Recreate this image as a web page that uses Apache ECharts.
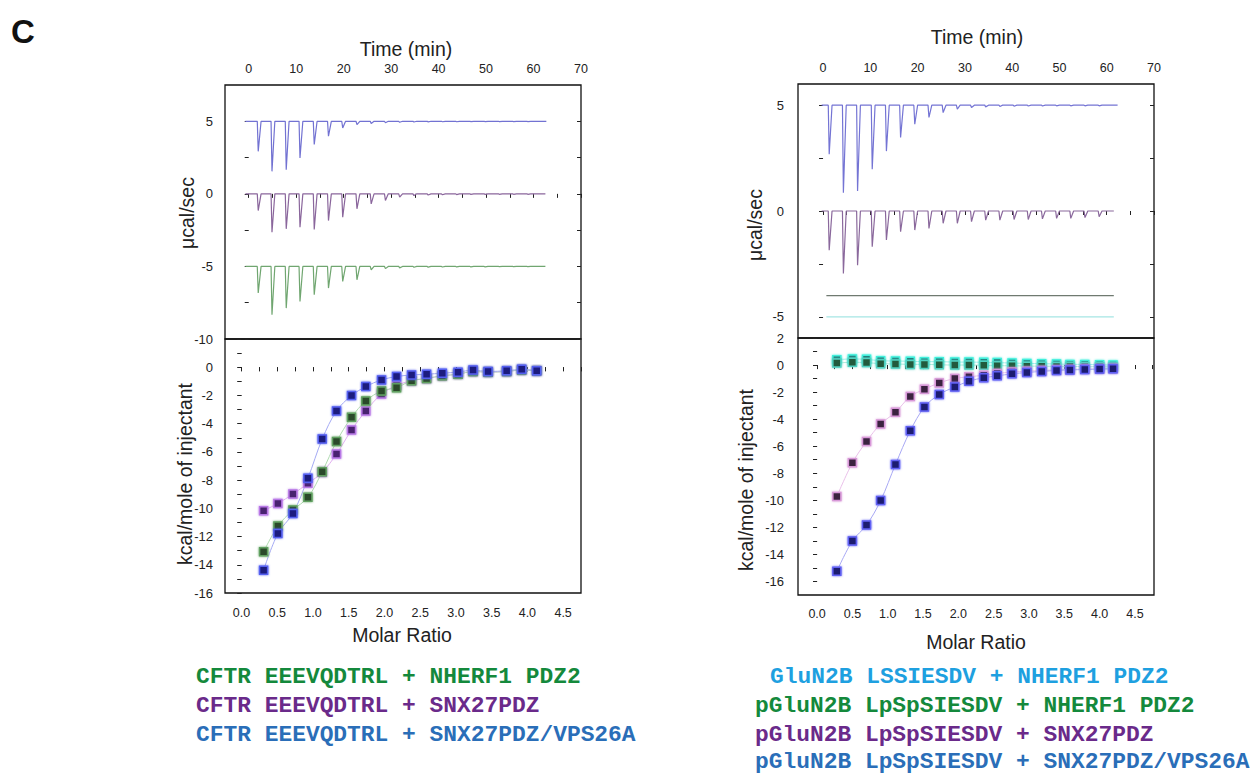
<!DOCTYPE html>
<html><head><meta charset="utf-8">
<script src="https://cdn.jsdelivr.net/npm/echarts@6/dist/echarts.min.js"></script>
<style>html,body{margin:0;padding:0;background:#fff;}#chart{width:1257px;height:776px;}</style>
</head><body><div id="chart"></div>
<script>
// ---------- tick labels ----------
const timeTicks = [0, 10, 20, 30, 40, 50, 60, 70];
const timeMinorTicks = [0, 5, 10, 15, 20, 25, 30, 35, 40, 45, 50, 55, 60, 65, 70];
const ratioTicks = [0, 0.5, 1, 1.5, 2, 2.5, 3, 3.5, 4, 4.5];
const ratioMinorTicks = [0, 0.25, 0.5, 0.75, 1, 1.25, 1.5, 1.75, 2, 2.25, 2.5, 2.75, 3, 3.25, 3.5, 3.75, 4, 4.25, 4.5, 4.75];
const powerTicksL = [5, 0, -5, -10];
const powerMinorL = [5, 2.5, 0, -2.5, -5, -7.5, -10];
const powerTicksR = [5, 0, -5];
const powerMinorR = [5, 2.5, 0, -2.5, -5];
const heatTicksL = [0, -2, -4, -6, -8, -10, -12, -14, -16];
const heatTicksR = [2, 0, -2, -4, -6, -8, -10, -12, -14, -16];
const heatMinor = [2, 1, 0, -1, -2, -3, -4, -5, -6, -7, -8, -9, -10, -11, -12, -13, -14, -15, -16];

// ---------- raw thermograms (injection time, peak µcal/sec) ----------
const injTimeL = [1.8, 4.7, 7.7, 10.6, 13.6, 16.6, 19.6, 22.6, 25.6, 28.6, 31.6, 34.6, 37.6, 40.6, 43.6, 46.6, 49.6, 52.6, 55.6, 58.6];
const peakL_VPS = [2.93, 1.55, 1.67, 2.47, 3.40, 3.97, 4.54, 4.77, 4.85, 4.90, 4.93, 4.95, 4.96, 4.97, 4.97, 4.98, 4.98, 4.98, 4.98, 4.98];
const peakL_SNX = [-1.15, -2.65, -2.41, -2.30, -2.45, -1.84, -1.61, -1.03, -0.69, -0.46, -0.23, -0.12, -0.08, -0.06, -0.05, -0.04, -0.04, -0.03, -0.03, -0.03];
const peakL_NHERF = [-6.83, -8.33, -7.87, -7.41, -6.95, -6.49, -6.03, -5.92, -5.23, -5.15, -5.10, -5.06, -5.05, -5.04, -5.03, -5.03, -5.03, -5.02, -5.02, -5.02];
const baseL = [5, 0, -5];

const injTimeR = [1.1, 4.1, 7.1, 10.2, 13.2, 16.2, 19.2, 22.2, 25.2, 28.2, 31.2, 34.2, 37.2, 40.2, 43.2, 46.2, 49.2, 52.2, 55.2, 58.2];
const peakR_VPS = [2.68, 0.86, 0.94, 1.97, 2.83, 3.47, 4.10, 4.42, 4.65, 4.81, 4.89, 4.92, 4.94, 4.95, 4.96, 4.96, 4.97, 4.97, 4.97, 4.97];
const peakR_SNX = [-1.85, -2.95, -2.56, -1.69, -1.37, -0.98, -0.90, -0.82, -0.58, -0.58, -0.50, -0.43, -0.43, -0.40, -0.40, -0.37, -0.35, -0.35, -0.31, -0.27];
const baseR = [5, 0, -4, -5];

// ---------- integrated heats (kcal/mole of injectant) ----------
const ratioL = [0.31, 0.51, 0.72, 0.93, 1.13, 1.33, 1.54, 1.74, 1.96, 2.17, 2.38, 2.59, 2.81, 3.03, 3.24, 3.45, 3.71, 3.92, 4.13];
const heatL_NHERF = [-13.08, -11.26, -10.12, -9.22, -7.40, -5.27, -3.55, -2.39, -1.68, -1.45, -0.95, -0.80, -0.60, -0.50, -0.30, -0.35, -0.30, -0.20, -0.25];
const heatL_SNX = [-10.17, -9.65, -8.99, -8.23, -7.45, -6.15, -4.45, -3.10, -1.90, -1.30, -0.95, -0.80, -0.60, -0.50, -0.30, -0.35, -0.30, -0.20, -0.25];
const heatL_VPS = [-14.38, -11.78, -10.36, -7.87, -5.09, -3.10, -2.01, -1.37, -0.90, -0.66, -0.55, -0.50, -0.42, -0.35, -0.20, -0.30, -0.25, -0.15, -0.25];

const ratioR = [0.28, 0.50, 0.70, 0.90, 1.11, 1.32, 1.52, 1.73, 1.95, 2.15, 2.36, 2.55, 2.76, 2.97, 3.18, 3.39, 3.58, 3.79, 4.00, 4.19];
const heatR_GluN2B = [0.40, 0.45, 0.42, 0.32, 0.30, 0.28, 0.25, 0.25, 0.22, 0.22, 0.20, 0.18, 0.15, 0.12, 0.10, 0.08, 0.05, 0.05, 0.02, 0.00];
const heatR_pNHERF = [0.15, 0.20, 0.18, 0.10, 0.08, 0.05, 0.05, 0.02, 0.00, 0.00, -0.02, -0.05, -0.05, -0.08, -0.08, -0.10, -0.10, -0.12, -0.12, -0.15];
const heatR_SNX = [-9.72, -7.23, -5.65, -4.36, -3.49, -2.32, -1.79, -1.32, -0.99, -0.87, -0.75, -0.62, -0.52, -0.45, -0.40, -0.35, -0.32, -0.30, -0.28, -0.25];
const heatR_VPS = [-15.25, -13.00, -11.83, -10.02, -7.35, -4.86, -3.11, -2.17, -1.62, -1.19, -0.94, -0.80, -0.65, -0.55, -0.47, -0.40, -0.36, -0.33, -0.30, -0.28];

// ---------- legend texts ----------
const legendLeft = [
  { text: 'CFTR EEEVQDTRL + NHERF1 PDZ2', color: '#14893c' },
  { text: 'CFTR EEEVQDTRL + SNX27PDZ', color: '#6a2a8a' },
  { text: 'CFTR EEEVQDTRL + SNX27PDZ/VPS26A', color: '#2a6eb8' }
];
const legendRight = [
  { text: 'GluN2B LSSIESDV + NHERF1 PDZ2', color: '#1ea0e0' },
  { text: 'pGluN2B LpSpSIESDV + NHERF1 PDZ2', color: '#14893c' },
  { text: 'pGluN2B LpSpSIESDV + SNX27PDZ', color: '#6a2a8a' },
  { text: 'pGluN2B LpSpSIESDV + SNX27PDZ/VPS26A', color: '#2a6eb8' }
];

// ---------- build ----------
const INK = '#222';
const FONT = '"Liberation Sans", Arial, sans-serif';
const MONO = '"Liberation Mono", "Courier New", monospace';

function thermo(times, peaks, base, t0, t1) {
  const d = [[t0, base]];
  times.forEach((t, i) => { d.push([t, base], [t + 0.2, peaks[i]], [t + 0.8, base]); });
  d.push([t1, base]);
  return d;
}
function pairs(xs, ys) { return xs.map((x, i) => [x, ys[i]]); }

function xAx(grid, pos, min, max, minor, labels, fmt, showLabel, margin) {
  return {
    gridIndex: grid, type: 'value', position: pos, min: min, max: max,
    axisLine: { show: false }, splitLine: { show: false },
    axisTick: { show: true, inside: true, length: 4, lineStyle: { color: INK, width: 1 }, customValues: minor },
    axisLabel: showLabel ? { show: true, customValues: labels, formatter: fmt, margin: margin, fontSize: 12.5, color: INK, fontFamily: FONT } : { show: false }
  };
}
function yAx(grid, pos, min, max, minor, labels, showLabel, margin, inside) {
  return {
    gridIndex: grid, type: 'value', position: pos, min: min, max: max,
    axisLine: { show: false }, splitLine: { show: false },
    axisTick: { show: true, inside: inside, length: 4, lineStyle: { color: INK, width: 1 }, customValues: minor },
    axisLabel: showLabel ? { show: true, customValues: labels, margin: margin, fontSize: 13, color: INK, fontFamily: FONT } : { show: false }
  };
}
const rfmt = v => v.toFixed(1);

const gridBase = { show: true, borderColor: '#111', borderWidth: 1.3, backgroundColor: 'transparent', containLabel: false, outerBoundsMode: 'none' };
const grids = [
  Object.assign({ left: 225, top: 85, width: 356, height: 254 }, gridBase),
  Object.assign({ left: 225, top: 339, width: 356, height: 254 }, gridBase),
  Object.assign({ left: 798, top: 84, width: 356, height: 254 }, gridBase),
  Object.assign({ left: 798, top: 338, width: 356, height: 257 }, gridBase)
];

const xAxes = [
  xAx(0, 'top', -5, 70, timeMinorTicks, timeTicks, null, true, 10),
  xAx(1, 'bottom', -0.23, 4.75, ratioMinorTicks, ratioTicks, rfmt, true, 13),
  xAx(2, 'top', -5.3, 70, timeMinorTicks, timeTicks, null, true, 10),
  xAx(3, 'bottom', -0.27, 4.77, ratioMinorTicks, ratioTicks, rfmt, true, 12),
  xAx(1, 'top', -0.23, 4.75, ratioMinorTicks, [], null, false, 0),
  xAx(3, 'top', -0.27, 4.77, ratioMinorTicks, [], null, false, 0)
];
xAxes[1].axisTick.inside = false;
xAxes[3].axisTick.inside = false;
const yAxes = [
  yAx(0, 'left', -10, 7.5, powerMinorL, powerTicksL, true, 12, false),
  yAx(1, 'left', -16, 2, heatMinor, heatTicksL, true, 12, false),
  yAx(2, 'left', -6, 6, powerMinorR, powerTicksR, true, 14, false),
  yAx(3, 'left', -17, 2, heatMinor, heatTicksR, true, 14, false),
  yAx(0, 'right', -10, 7.5, powerMinorL, [], false, 0, true),
  yAx(1, 'right', -16, 2, heatMinor, [], false, 0, true),
  yAx(2, 'right', -6, 6, powerMinorR, [], false, 0, true),
  yAx(3, 'right', -17, 2, heatMinor, [], false, 0, true)
];

function thermoSeries(xi, yi, data, color, w) {
  return { type: 'line', xAxisIndex: xi, yAxisIndex: yi, data: data, showSymbol: false, symbol: 'none',
    lineStyle: { color: color, width: w || 1.2 }, silent: true, animation: false, z: 2 };
}
function heatSeries(xi, yi, data, fill, halo, lineColor) {
  return { type: 'line', xAxisIndex: xi, yAxisIndex: yi, data: data, smooth: 0.35,
    symbol: 'rect', symbolSize: 8, showSymbol: true,
    lineStyle: { color: lineColor, width: 1 },
    itemStyle: { color: fill, borderColor: halo, borderWidth: 1.5, shadowBlur: 2, shadowColor: halo },
    animation: false, z: 3 };
}

const series = [
  thermoSeries(0, 0, thermo(injTimeL, peakL_VPS, baseL[0], -0.7, 62.7), '#7272d2'),
  thermoSeries(0, 0, thermo(injTimeL, peakL_SNX, baseL[1], -0.7, 62.5), '#8a669c'),
  thermoSeries(0, 0, thermo(injTimeL, peakL_NHERF, baseL[2], -0.7, 62.5), '#70a670'),
  thermoSeries(2, 2, thermo(injTimeR, peakR_VPS, baseR[0], -0.3, 62.3), '#7474d4'),
  thermoSeries(2, 2, thermo(injTimeR, peakR_SNX, baseR[1], -0.3, 61.5), '#8a689c'),
  thermoSeries(2, 2, [[0.7, baseR[2]], [61.5, baseR[2]]], '#6f7a70'),
  thermoSeries(2, 2, [[0.7, baseR[3]], [61.5, baseR[3]]], '#a6e6e4'),

  heatSeries(1, 1, pairs(ratioL, heatL_SNX), '#4a2270', '#b878e6', '#e2b0f0'),
  heatSeries(1, 1, pairs(ratioL, heatL_NHERF), '#2c4a2c', '#60a060', '#b0dcb0'),
  heatSeries(1, 1, pairs(ratioL, heatL_VPS), '#1a1a7e', '#5560f0', '#a4aaf4'),

  heatSeries(3, 3, pairs(ratioR, heatR_GluN2B), '#1f7070', '#3ff0dc', '#a0f0ea'),
  heatSeries(3, 3, pairs(ratioR, heatR_pNHERF), '#245a3c', '#50d0c0', '#b0e8d8'),
  heatSeries(3, 3, pairs(ratioR, heatR_SNX), '#3a2240', '#d898d8', '#eac0ea'),
  heatSeries(3, 3, pairs(ratioR, heatR_VPS), '#1a1a70', '#6060f4', '#a8a8f4')
];

const nameStyle = { fill: INK, fontSize: 19.5, fontFamily: FONT };
function nameText(text, x, y, rot) {
  return { type: 'text', x: x, y: y, rotation: rot ? Math.PI / 2 : 0,
    style: Object.assign({ text: text, align: 'center', verticalAlign: 'middle' }, nameStyle), silent: true };
}
const graphics = [
  { type: 'text', x: 11, y: 31, style: { text: 'C', fill: '#111', fontSize: 33, fontWeight: 'bold', fontFamily: FONT, verticalAlign: 'middle' } },
  nameText('Time (min)', 406, 49, false),
  nameText('Time (min)', 977, 37, false),
  nameText('Molar Ratio', 402, 635, false),
  nameText('Molar Ratio', 976, 642, false),
  nameText('μcal/sec', 187, 213, true),
  nameText('μcal/sec', 755, 225, true),
  nameText('kcal/mole of injectant', 185, 474, true),
  nameText('kcal/mole of injectant', 746, 480, true)
];
const rowYL = [677, 706, 735];
legendLeft.forEach((it, i) => {
  graphics.push({ type: 'text', x: 196, y: rowYL[i], silent: true,
    style: { text: it.text, fill: it.color, fontSize: 22.9, fontWeight: 'bold', fontFamily: MONO, verticalAlign: 'middle' } });
});
const rowYR = [677, 706, 735, 762];
const rowXR = [770, 755, 755, 755];
legendRight.forEach((it, i) => {
  graphics.push({ type: 'text', x: rowXR[i], y: rowYR[i], silent: true,
    style: { text: it.text, fill: it.color, fontSize: 22.9, fontWeight: 'bold', fontFamily: MONO, verticalAlign: 'middle' } });
});

const chart = echarts.init(document.getElementById('chart'), null, { renderer: 'svg', width: 1257, height: 776 });
chart.setOption({
  backgroundColor: '#fff',
  animation: false,
  grid: grids,
  xAxis: xAxes,
  yAxis: yAxes,
  series: series,
  graphic: graphics
});
</script>
</body></html>
